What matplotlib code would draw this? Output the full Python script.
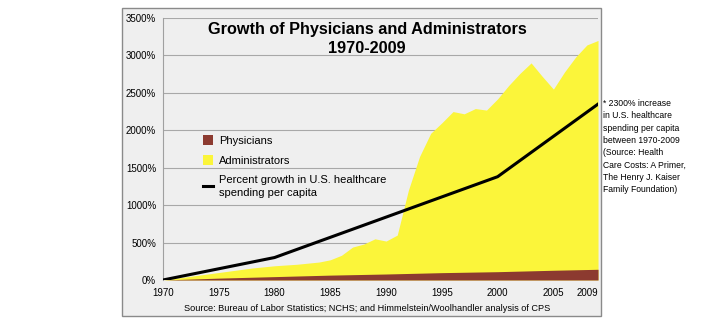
import numpy as np
import matplotlib.pyplot as plt
from matplotlib.patches import Rectangle
from matplotlib.lines import Line2D

plt.rcParams['font.family'] = ['Liberation Sans', 'DejaVu Sans']

# data (percent growth since 1970)
admin_years = [1970, 1972, 1975, 1978, 1980, 1982, 1984, 1985, 1986, 1987, 1988, 1989,
               1990, 1991, 1992, 1993, 1994, 1995, 1996, 1997, 1998, 1999, 2000,
               2001, 2002, 2003, 2004, 2005, 2006, 2007, 2008, 2009]
admin_growth = [0, 40, 100, 160, 190, 210, 240, 270, 330, 440, 480, 550,
                520, 600, 1200, 1650, 1960, 2100, 2250, 2220, 2290, 2270, 2420,
                2600, 2760, 2900, 2720, 2550, 2780, 2980, 3140, 3200]
phys_years = [1970, 1975, 1980, 1985, 1990, 1995, 2000, 2005, 2009]
phys_growth = [0, 25, 45, 65, 80, 98, 111, 130, 143]
spend_years = [1970, 1980, 2000, 2009]
spend_growth = [0, 300, 1380, 2350]

xticks = [1970, 1975, 1980, 1985, 1990, 1995, 2000, 2005, 2009]
yticks = [0, 500, 1000, 1500, 2000, 2500, 3000, 3500]

note = ("* 2300% increase\nin U.S. healthcare\nspending per capita\nbetween 1970-2009\n"
        "(Source: Health\nCare Costs: A Primer,\nThe Henry J. Kaiser\nFamily Foundation)")

yellow = '#fbf53a'
brown = '#8c3a30'

fig = plt.figure(figsize=(7.2, 3.25), dpi=100)

# grey frame behind the chart
fig.patches.append(Rectangle((0.169, 0.027), 0.666, 0.948, transform=fig.transFigure,
                             facecolor='#efefef', edgecolor='#8a8a8a', lw=1, zorder=-1))

ax = fig.add_axes([0.2264, 0.1385, 0.6042, 0.8061])
ax.set_facecolor('#efefef')

ax.fill_between(admin_years, 0, admin_growth, color=yellow, lw=0, zorder=2)
ax.fill_between(phys_years, 0, phys_growth, color=brown, lw=0, zorder=3)
ax.plot(spend_years, spend_growth, color='black', lw=2.2, zorder=4)

ax.set_xlim(1970, 2009)
ax.set_ylim(0, 3500)
ax.set_xticks(xticks)
ax.set_yticks(yticks)
ax.set_yticklabels([f'{v}%' for v in yticks])
ax.tick_params(labelsize=7, length=0)
ax.tick_params(axis='x', pad=6)
ax.tick_params(axis='y', pad=5)
ax.get_xticklabels()[-1].set_ha('right')
ax.grid(axis='y', color='#a8a8a8', lw=0.8, zorder=1)
ax.set_axisbelow(True)
for s in ['top', 'right', 'bottom']:
    ax.spines[s].set_visible(False)
ax.spines['left'].set_color('#a0a0a0')

fig.text(0.51, 0.932, 'Growth of Physicians and Administrators\n1970-2009',
         ha='center', va='top', fontsize=11.7, fontweight='bold', linespacing=1.3)

handles = [Rectangle((0, 0), 1, 1, facecolor=brown),
           Rectangle((0, 0), 1, 1, facecolor=yellow),
           Line2D([0], [0], color='black', lw=2.2)]
leg = ax.legend(handles, ['Physicians', 'Administrators',
                          'Percent growth in U.S. healthcare\nspending per capita'],
                loc='upper left', bbox_to_anchor=(0.07, 0.59), frameon=False, fontsize=8,
                handlelength=0.9, handleheight=0.9, handletextpad=0.5, labelspacing=0.85)
leg.get_texts()[2].set_linespacing(1.35)

fig.text(0.51, 0.052, 'Source: Bureau of Labor Statistics; NCHS; and Himmelstein/Woolhandler analysis of CPS',
         ha='center', va='center', fontsize=6.6)
fig.text(0.838, 0.695, note, ha='left', va='top', fontsize=6.2, linespacing=1.47)

fig.savefig('out.png', dpi=100)
